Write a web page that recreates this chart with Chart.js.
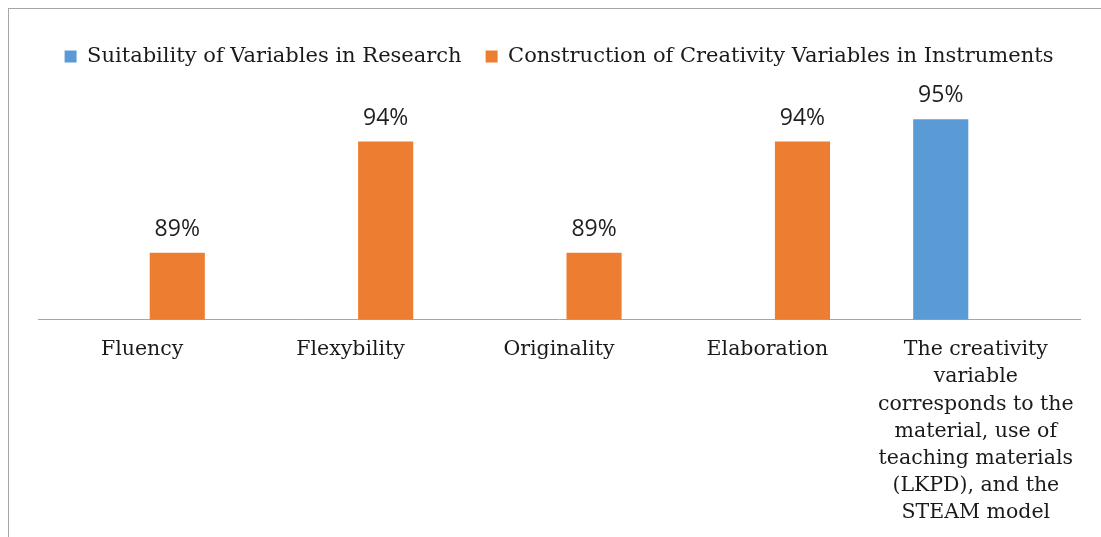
<!DOCTYPE html>
<html>
<head>
<meta charset="utf-8">
<script src="https://cdn.jsdelivr.net/npm/chart.js@4.4.1/dist/chart.umd.min.js"></script>
<style>
html,body{margin:0;padding:0;background:#fff;}
#wrap{position:relative;width:1101px;height:537px;overflow:hidden;}
#frame{position:absolute;left:8px;top:8px;width:1200px;height:600px;border-top:1px solid #a6a6a6;border-left:1px solid #a6a6a6;box-sizing:border-box;}
canvas{position:absolute;left:0;top:0;}
</style>
</head>
<body>
<div id="wrap"><div id="frame"></div><canvas id="c" width="1101" height="537"></canvas></div>
<script>
const categories = [
  "Fluency",
  "Flexybility",
  "Originality",
  "Elaboration",
  ["The creativity", "variable", "corresponds to the", "material, use of", "teaching materials", "(LKPD), and the", "STEAM model"]
];
const seriesNames = ["Suitability of Variables in Research", "Construction of Creativity Variables in Instruments"];
const suitability = [null, null, null, null, 95];
const construction = [89, 94, 89, 94, null];
const yMin = 86, yMax = 96;

const valueLabels = {
  id: 'valueLabels',
  afterDatasetsDraw(chart) {
    const ctx = chart.ctx;
    ctx.save();
    ctx.font = '23px "Open Sans", "Liberation Sans", sans-serif';
    ctx.fillStyle = '#1f1f1f';
    ctx.textAlign = 'center';
    ctx.textBaseline = 'bottom';
    chart.data.datasets.forEach((ds, i) => {
      const meta = chart.getDatasetMeta(i);
      meta.data.forEach((el, j) => {
        const v = ds.data[j];
        if (v === null || v === undefined) return;
        ctx.fillText(v + '%', el.x, el.y - 12);
      });
    });
    ctx.restore();
  }
};

const legendSpacer = {
  id: 'legendSpacer',
  beforeInit(chart) {
    const origFit = chart.legend.fit;
    chart.legend.fit = function () {
      origFit.bind(chart.legend)();
      this.height += 20;
    };
  }
};

new Chart(document.getElementById('c'), {
  type: 'bar',
  data: {
    labels: categories,
    datasets: [
      { label: seriesNames[0], data: suitability, backgroundColor: '#5B9BD5', categoryPercentage: 0.673, barPercentage: 0.786 },
      { label: seriesNames[1], data: construction, backgroundColor: '#ED7D31', categoryPercentage: 0.673, barPercentage: 0.786 }
    ]
  },
  options: {
    responsive: false,
    animation: false,
    layout: { padding: { left: 38, right: 21, top: 22, bottom: 2 } },
    plugins: {
      tooltip: { enabled: false },
      legend: {
        display: true,
        position: 'top',
        labels: {
          boxWidth: 12, boxHeight: 12, padding: 24,
          color: '#1a1a1a',
          font: { family: '"DejaVu Serif", serif', size: 21 }
        }
      }
    },
    scales: {
      y: { display: false, min: yMin, max: yMax },
      x: {
        grid: { display: false },
        border: { display: true, color: '#a6a6a6', width: 1 },
        ticks: {
          color: '#1a1a1a', padding: 9, maxRotation: 0, autoSkip: false,
          font: { family: '"DejaVu Serif", serif', size: 20.5, lineHeight: 1.32 }
        }
      }
    }
  },
  plugins: [valueLabels, legendSpacer]
});
</script>
</body>
</html>
